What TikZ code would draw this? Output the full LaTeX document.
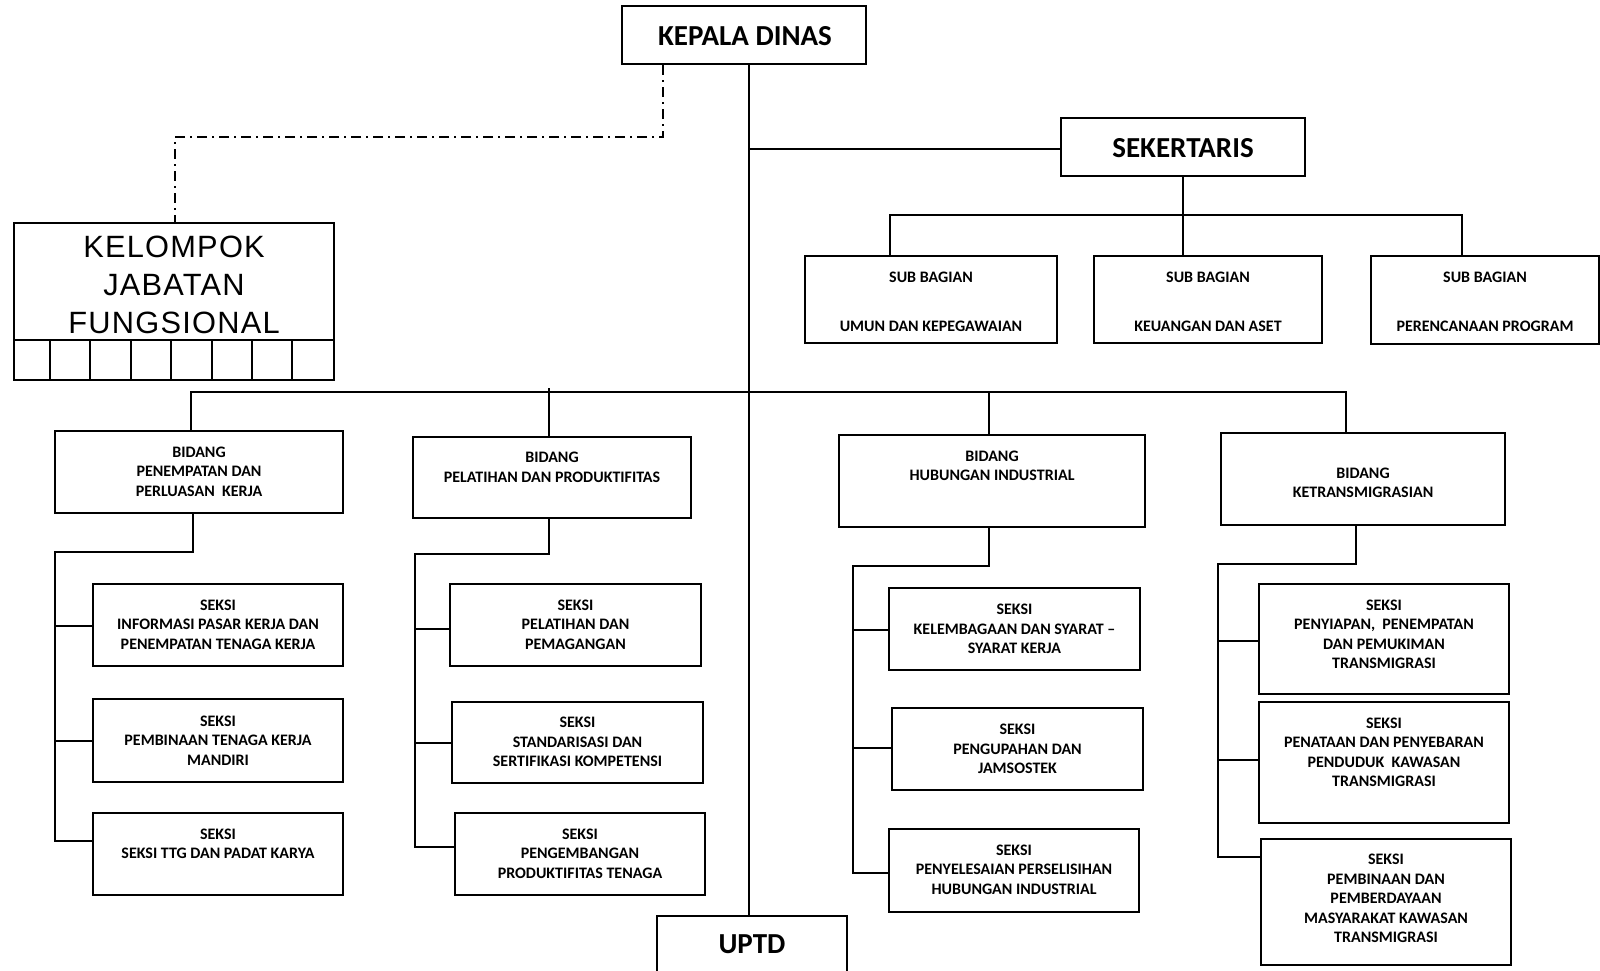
\documentclass[tikz,border=0pt]{standalone}
\usepackage{fontspec}
\setmainfont{Carlito}
\newfontfamily\kjffont[LetterSpace=4]{Liberation Sans}
\begin{document}
\begin{tikzpicture}[x=0.5pt,y=-0.5pt,
  bx/.style={draw,line width=1pt,inner sep=0pt},
  ln/.style={line width=1pt},
  dd/.style={line width=0.8pt,dash pattern=on 5pt off 2.5pt on 1pt off 2.5pt},
  cell/.style={line width=0.6pt},
  tx/.style={align=center,inner sep=0pt,font=\fontsize{8}{9.75}\selectfont\bfseries},
  txs/.style={align=center,inner sep=0pt,font=\fontsize{8}{24.5}\selectfont\bfseries},
  big/.style={inner sep=0pt,font=\fontsize{14.5}{17}\selectfont\bfseries}]
\useasboundingbox (0,0) rectangle (1600,970);

% top level
\node[bx,minimum width=122pt,minimum height=29pt] (kd) at (744,35) {};
\node[big] (kdt) at (745,36) {KEPALA DINAS};
\node[bx,minimum width=122pt,minimum height=29pt] (sek) at (1183,147) {};
\node[big] (sekt) at (1183,148) {SEKERTARIS};
\node[bx,minimum width=95pt,minimum height=37pt] (uptd) at (752,953) {};
\node[big] (uptdt) at (752,944) {UPTD};

% sub bagian
\node[bx,minimum width=126pt,minimum height=43.5pt] (sb1) at (931,299.5) {};
\node[txs] (sb1t) at (931,301.5) {SUB BAGIAN\\UMUN DAN KEPEGAWAIAN};
\node[bx,minimum width=114pt,minimum height=43.5pt] (sb2) at (1208,299.5) {};
\node[txs] (sb2t) at (1208,301.5) {SUB BAGIAN\\KEUANGAN DAN ASET};
\node[bx,minimum width=114pt,minimum height=44pt] (sb3) at (1485,300) {};
\node[txs] (sb3t) at (1485,301.5) {SUB BAGIAN\\PERENCANAAN PROGRAM};

% kelompok jabatan fungsional
\node[draw,line width=0.6pt,inner sep=0pt,minimum width=160pt,minimum height=78.5pt] (kjf) at (174,301.5) {};
\node[align=center,inner sep=0pt,font=\kjffont\fontsize{15.4}{19}\selectfont] (kjft) at (174,285) {KELOMPOK\\JABATAN\\FUNGSIONAL};
\coordinate (kdivL) at (14,340);
\draw[cell] (kdivL) -- (kdivL -| kjf.east);
\foreach \xx in {50,90,131,171,212,252,292} \draw[cell] (\xx,340) -- (\xx,380);

% bidang
\node[bx,minimum width=144pt,minimum height=41pt] (b1) at (199,472) {};
\node[tx] (b1t) at (199,471.5) {BIDANG\\PENEMPATAN DAN\\PERLUASAN\ \ KERJA};
\node[bx,minimum width=139pt,minimum height=40.5pt] (b2) at (552,477.5) {};
\node[tx] (b2t) at (552,467.5) {BIDANG\\PELATIHAN DAN PRODUKTIFITAS};
\node[bx,minimum width=153pt,minimum height=46pt] (b3) at (991.5,481) {};
\node[tx] (b3t) at (992,466) {BIDANG\\HUBUNGAN INDUSTRIAL};
\node[bx,minimum width=142pt,minimum height=46pt] (b4) at (1363,478.5) {};
\node[tx] (b4t) at (1363,483) {BIDANG\\KETRANSMIGRASIAN};

% seksi column 1
\node[bx,minimum width=125pt,minimum height=41pt] (s11) at (218,625) {};
\node[tx] (s11t) at (218,624.5) {SEKSI\\INFORMASI PASAR KERJA DAN\\PENEMPATAN TENAGA KERJA};
\node[bx,minimum width=125pt,minimum height=41.5pt] (s12) at (218,740.5) {};
\node[tx] (s12t) at (218,740.5) {SEKSI\\PEMBINAAN TENAGA KERJA\\MANDIRI};
\node[bx,minimum width=125pt,minimum height=41pt] (s13) at (218,854) {};
\node[tx] (s13t) at (218,844) {SEKSI\\SEKSI TTG DAN PADAT KARYA};

% seksi column 2
\node[bx,minimum width=125.5pt,minimum height=41pt] (s21) at (575.5,625) {};
\node[tx] (s21t) at (575.5,624.5) {SEKSI\\PELATIHAN DAN\\PEMAGANGAN};
\node[bx,minimum width=125.5pt,minimum height=40.5pt] (s22) at (577.5,742) {};
\node[tx] (s22t) at (577.5,742) {SEKSI\\STANDARISASI DAN\\SERTIFIKASI KOMPETENSI};
\node[bx,minimum width=125pt,minimum height=41pt] (s23) at (580,854) {};
\node[tx] (s23t) at (580,853.5) {SEKSI\\PENGEMBANGAN\\PRODUKTIFITAS TENAGA};

% seksi column 3
\node[bx,minimum width=125.5pt,minimum height=41pt] (s31) at (1014.5,629) {};
\node[tx] (s31t) at (1014.5,629) {SEKSI\\KELEMBAGAAN DAN SYARAT --\\SYARAT KERJA};
\node[bx,minimum width=125.5pt,minimum height=41.3pt] (s32) at (1017.5,748.8) {};
\node[tx] (s32t) at (1017.5,748.8) {SEKSI\\PENGUPAHAN DAN\\JAMSOSTEK};
\node[bx,minimum width=125pt,minimum height=41.85pt] (s33) at (1014,870.5) {};
\node[tx] (s33t) at (1014,869.5) {SEKSI\\PENYELESAIAN PERSELISIHAN\\HUBUNGAN INDUSTRIAL};

% seksi column 4
\node[bx,minimum width=125pt,minimum height=55pt] (s41) at (1384,639) {};
\node[tx] (s41t) at (1384,634.5) {SEKSI\\PENYIAPAN,\ \ PENEMPATAN\\DAN PEMUKIMAN\\TRANSMIGRASI};
\node[bx,minimum width=125pt,minimum height=60.5pt] (s42) at (1384,762.5) {};
\node[tx] (s42t) at (1384,752.5) {SEKSI\\PENATAAN DAN PENYEBARAN\\PENDUDUK\ \ KAWASAN\\TRANSMIGRASI};
\node[bx,minimum width=125pt,minimum height=63pt] (s43) at (1386,901.6) {};
\node[tx] (s43t) at (1386,898.7) {SEKSI\\PEMBINAAN DAN\\PEMBERDAYAAN\\MASYARAKAT KAWASAN\\TRANSMIGRASI};

% trunk and secretary
\coordinate (tr) at (749,0);
\draw[ln] (kd.south -| tr) -- (uptd.north -| tr);
\coordinate (jSek) at (749,149);
\draw[ln] (jSek) -- (jSek -| sek.west);
\draw[ln] (sek.south) -- (sek.south |- sb2.north);
\coordinate (sbL) at (890,215);
\coordinate (sbR) at (1462,215);
\draw[ln] (sbL |- sb1.north) -- (sbL) -- (sbR) -- (sbR |- sb3.north);

% dash-dot to kelompok
\coordinate (d1) at (663,137);
\coordinate (d2) at (175,137);
\draw[dd] (kd.south -| d1) -- (d1) -- (d2) -- (d2 |- kjf.north);

% bidang bus
\coordinate (bL) at (191,392);
\coordinate (bR) at (1346,392);
\draw[ln] (bL |- b1.north) -- (bL) -- (bR) -- (bR |- b4.north);
\coordinate (b2x) at (549,388);
\draw[ln] (b2x) -- (b2x |- b2.north);
\coordinate (b3x) at (989,392);
\draw[ln] (b3x) -- (b3x |- b3.north);

% column 1 connectors
\coordinate (c1a) at (193,552); \coordinate (c1b) at (55,552);
\coordinate (c1y1) at (55,626); \coordinate (c1y2) at (55,741); \coordinate (c1y3) at (55,841);
\draw[ln] (c1a |- b1.south) -- (c1a) -- (c1b) -- (c1y3) -- (c1y3 -| s13.west);
\draw[ln] (c1y1) -- (c1y1 -| s11.west);
\draw[ln] (c1y2) -- (c1y2 -| s12.west);

% column 2 connectors
\coordinate (c2a) at (549,554); \coordinate (c2b) at (415,554);
\coordinate (c2y1) at (415,629); \coordinate (c2y2) at (415,743); \coordinate (c2y3) at (415,847);
\draw[ln] (c2a |- b2.south) -- (c2a) -- (c2b) -- (c2y3) -- (c2y3 -| s23.west);
\draw[ln] (c2y1) -- (c2y1 -| s21.west);
\draw[ln] (c2y2) -- (c2y2 -| s22.west);

% column 3 connectors
\coordinate (c3a) at (989,566); \coordinate (c3b) at (853,566);
\coordinate (c3y1) at (853,630); \coordinate (c3y2) at (853,747.5); \coordinate (c3y3) at (853,873);
\draw[ln] (c3a |- b3.south) -- (c3a) -- (c3b) -- (c3y3) -- (c3y3 -| s33.west);
\draw[ln] (c3y1) -- (c3y1 -| s31.west);
\draw[ln] (c3y2) -- (c3y2 -| s32.west);

% column 4 connectors
\coordinate (c4a) at (1356,564); \coordinate (c4b) at (1218,564);
\coordinate (c4y1) at (1218,641); \coordinate (c4y2) at (1218,759.5); \coordinate (c4y3) at (1218,857);
\draw[ln] (c4a |- b4.south) -- (c4a) -- (c4b) -- (c4y3) -- (c4y3 -| s43.west);
\draw[ln] (c4y1) -- (c4y1 -| s41.west);
\draw[ln] (c4y2) -- (c4y2 -| s42.west);
\end{tikzpicture}
\end{document}
